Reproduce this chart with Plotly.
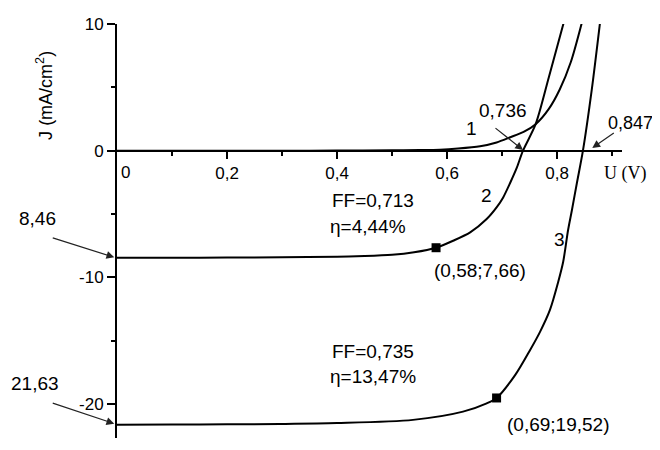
import plotly.graph_objects as go

# ---- data ----
# curve 1 (dark)
U1 = [0, 0.1, 0.2, 0.3, 0.4, 0.5, 0.55, 0.587, 0.62, 0.66, 0.69, 0.715, 0.74, 0.761, 0.785, 0.805, 0.825, 0.845]
J1 = [0, 0, 0, 0, 0.01, 0.03, 0.05, 0.08, 0.17, 0.35, 0.65, 1.06, 1.5, 2.09, 3.3, 4.85, 7.0, 10.1]
# curve 2
U2 = [0, 0.1, 0.2, 0.3, 0.4, 0.45, 0.5, 0.54, 0.58, 0.611, 0.642, 0.672, 0.69, 0.702, 0.715, 0.727, 0.738, 0.761, 0.785, 0.812]
J2 = [-8.46, -8.45, -8.44, -8.42, -8.37, -8.32, -8.22, -8.02, -7.66, -7.11, -6.45, -5.40, -4.48, -3.69, -2.51, -1.32, 0, 2.09, 5.8, 10.1]
# curve 3
U3 = [0, 0.1, 0.2, 0.296, 0.4, 0.538, 0.629, 0.672, 0.69, 0.724, 0.751, 0.769, 0.787, 0.802, 0.811, 0.82, 0.827, 0.836, 0.847, 0.863, 0.878]
J3 = [-21.63, -21.62, -21.6, -21.57, -21.5, -21.25, -20.6, -19.94, -19.52, -17.7, -15.73, -14.3, -12.57, -10.36, -8.79, -6.26, -4.68, -2.55, 0, 4.8, 10.1]
# maximum power points
MPP_U = [0.58, 0.69]
MPP_J = [-7.66, -19.52]

X_TICKS = [0.2, 0.4, 0.6, 0.8]
X_TICK_TEXT = ["0,2", "0,4", "0,6", "0,8"]
X_MINOR = [0.1, 0.3, 0.5, 0.7, 0.9]
Y_TICKS = [-20, -10, 0, 10]
Y_TICK_TEXT = ["-20", "-10", "0", "10"]
Y_MINOR = [-15, -5, 5]

X_RANGE = [0, 0.918]
Y_RANGE = [-22.68, 10]

FONT = "Liberation Sans, Arial, sans-serif"
FS = 19

fig = go.Figure()
line = dict(color="black", width=2, shape="spline", smoothing=0.8)
for u, j in [(U1, J1), (U2, J2), (U3, J3)]:
    fig.add_trace(go.Scatter(x=u, y=j, mode="lines", line=line, showlegend=False, hoverinfo="skip"))
fig.add_trace(go.Scatter(x=MPP_U, y=MPP_J, mode="markers",
                         marker=dict(symbol="square", size=9, color="black"),
                         showlegend=False, hoverinfo="skip"))

x_axis_pos = (0 - Y_RANGE[0]) / (Y_RANGE[1] - Y_RANGE[0])

fig.update_layout(
    width=650, height=430,
    margin=dict(l=109, r=36, t=16, b=0),
    paper_bgcolor="white", plot_bgcolor="white",
    font=dict(family=FONT, size=FS, color="black"),
    xaxis=dict(range=X_RANGE, anchor="free", position=x_axis_pos,
               showline=True, linecolor="black", linewidth=2,
               showgrid=False, zeroline=False,
               tickvals=X_TICKS, ticktext=X_TICK_TEXT,
               ticks="outside", ticklen=7, tickwidth=2, tickcolor="black",
               ticklabelstandoff=0,
               tickfont=dict(family=FONT, size=17),
               minor=dict(tickvals=X_MINOR, ticks="outside", ticklen=4, tickwidth=2, tickcolor="black")),
    yaxis=dict(range=Y_RANGE, showline=True, linecolor="black", linewidth=2,
               showgrid=False, zeroline=False,
               tickvals=Y_TICKS, ticktext=Y_TICK_TEXT,
               ticks="outside", ticklen=8, tickwidth=2, tickcolor="black",
               tickfont=dict(family=FONT, size=17),
               minor=dict(tickvals=Y_MINOR, ticks="outside", ticklen=4, tickwidth=2, tickcolor="black")),
)

def xd(x):
    return (x - X_RANGE[0]) / (X_RANGE[1] - X_RANGE[0])

def txt(x, y, s, xanchor="center", size=FS, family=FONT, angle=0):
    fig.add_annotation(x=xd(x), xref="x domain", y=y, yref="y", text=s, showarrow=False,
                       xanchor=xanchor, yanchor="middle",
                       font=dict(family=family, size=size, color="black"), textangle=angle)

def arrow(x, y, ax, ay):
    fig.add_annotation(x=xd(x), xref="x domain", y=y, yref="y", ax=ax, ay=ay, text="",
                       showarrow=True, arrowhead=2, arrowsize=1.3, arrowwidth=1.2, arrowcolor="#222")

txt(0.003, -1.69, "0", xanchor="left", size=17)
txt(0.925, -1.84, "U (V)", family="Liberation Serif, Times New Roman, serif", size=18)
txt(-0.131, 4.4, "J (mA/cm<sup>2</sup>)", angle=-90, size=18)

txt(0.645, 1.79, "1")
txt(0.672, -3.5, "2")
txt(0.805, -7.0, "3")
txt(0.702, 3.21, "0,736")
txt(0.934, 2.19, "0,847", size=18)
txt(0.387, -3.97, "FF=0,713", xanchor="left")
txt(0.384, -6.02, "η=4,44%", xanchor="left")
txt(0.387, -15.86, "FF=0,735", xanchor="left")
txt(0.384, -17.86, "η=13,47%", xanchor="left")
txt(0.572, -9.46, "(0,58;7,66)", xanchor="left")
txt(0.705, -21.65, "(0,69;19,52)", xanchor="left")
txt(-0.145, -5.39, "8,46")
txt(-0.149, -18.41, "21,63")

arrow(0.738, 0.06, -29, -23)
arrow(0.864, 0.21, 23, -16)
arrow(-0.005, -8.42, -63, -20)
arrow(-0.005, -21.55, -63, -21)

fig.write_html("out.html")
